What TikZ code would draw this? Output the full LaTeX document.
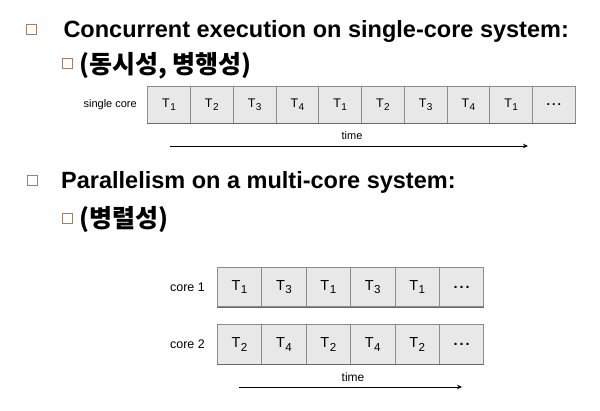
\documentclass[tikz,border=0pt]{standalone}
\usepackage{fontspec}
\setmainfont{Liberation Sans}
\newfontfamily\kofont{Noto Sans CJK KR}
\usetikzlibrary{arrows.meta}

\definecolor{bulletbrown}{RGB}{160,128,105}
\definecolor{cellfill}{RGB}{232,232,232}
\definecolor{cellline}{RGB}{140,140,140}
\definecolor{celledge}{RGB}{105,105,105}

% task label with a lowered subscript digit
\newcommand\tsk[1]{T\kern0.4pt\raisebox{-0.45ex}{\scalebox{0.8}{#1}}}
% continuation marks in the last cell
\newcommand\more{{\bfseries .\kern2pt.\kern2pt.}}

\begin{document}
\begin{tikzpicture}[x=1pt,y=-1pt,
  bulletbox/.style={draw=bulletbrown, line width=0.9pt, minimum size=10pt, inner sep=0pt},
  head/.style={font=\fontsize{23.5}{23.5}\selectfont\bfseries, anchor=base west, inner sep=0pt},
  kohead/.style={font=\fontsize{25}{25}\selectfont\kofont\bfseries, anchor=base west, inner sep=0pt},
  cellA/.style={draw=cellline, fill=cellfill, line width=0.7pt, anchor=north west, inner sep=0pt,
    minimum width=42.76pt, minimum height=37pt, font=\fontsize{12.5}{12.5}\selectfont},
  cellB/.style={draw=cellline, fill=cellfill, line width=0.7pt, anchor=north west, inner sep=0pt,
    minimum width=44.4pt, minimum height=39.5pt, font=\fontsize{14.5}{14.5}\selectfont},
  bottomedge/.style={draw=celledge, line width=1pt},
  rowlabel/.style={anchor=east, inner sep=0pt},
  timelabel/.style={inner sep=0pt},
  timearrow/.style={line width=0.8pt, -{Stealth[length=5pt,width=4.5pt]}}
]
\useasboundingbox (0,0) rectangle (600,411);

% headings
\node[bulletbox] (b1) at (31.7,29) {};
\node[head] (h1) at (63.3,37.5) {Concurrent execution on single-core system:};
\node[bulletbox] (b2) at (67.5,63.5) {};
\node[kohead] (h2) at (79,73.5) {(동시성, 병행성)};
\node[bulletbox] (b3) at (32,180.3) {};
\node[head] (h3) at (61,188.5) {Parallelism on a multi-core system:};
\node[bulletbox] (b4) at (67.5,218.3) {};
\node[kohead] (h4) at (79,228) {(병렬성)};

% single-core time line
\node[rowlabel, font=\fontsize{11}{11}\selectfont] (sl) at (137,104.5) {single core};
\foreach \t [count=\i from 0] in {1,2,3,4,1,2,3,4,1}
  \node[cellA] (s\i) at ({147.3+42.76*\i},86) {\tsk{\t}};
\node[cellA] (s9) at ({147.3+42.76*9},86) {\more};
\draw[bottomedge] (s0.south west) -- (s9.south east);
\node[timelabel, font=\fontsize{11}{11}\selectfont] (st) at (352,136) {time};
\coordinate (sa0) at (170,146);
\coordinate (sa1) at (528,146);
\draw[timearrow] (sa0) -- (sa1);

% multi-core time lines
\node[rowlabel, font=\fontsize{12.5}{12.5}\selectfont] (c1) at (205,287) {core 1};
\node[rowlabel, font=\fontsize{12.5}{12.5}\selectfont] (c2) at (205,344) {core 2};
\foreach \t [count=\i from 0] in {1,3,1,3,1}
  \node[cellB] (p\i) at ({217+44.4*\i},267) {\tsk{\t}};
\node[cellB] (p5) at ({217+44.4*5},267) {\more};
\draw[bottomedge] (p0.south west) -- (p5.south east);
\foreach \t [count=\i from 0] in {2,4,2,4,2}
  \node[cellB] (q\i) at ({217+44.4*\i},324.5) {\tsk{\t}};
\node[cellB] (q5) at ({217+44.4*5},324.5) {\more};
\draw[bottomedge] (q0.south west) -- (q5.south east);
\node[timelabel, font=\fontsize{12}{12}\selectfont] (mt) at (353,377) {time};
\coordinate (ma0) at (239,387);
\coordinate (ma1) at (462,387);
\draw[timearrow] (ma0) -- (ma1);
\end{tikzpicture}
\end{document}
